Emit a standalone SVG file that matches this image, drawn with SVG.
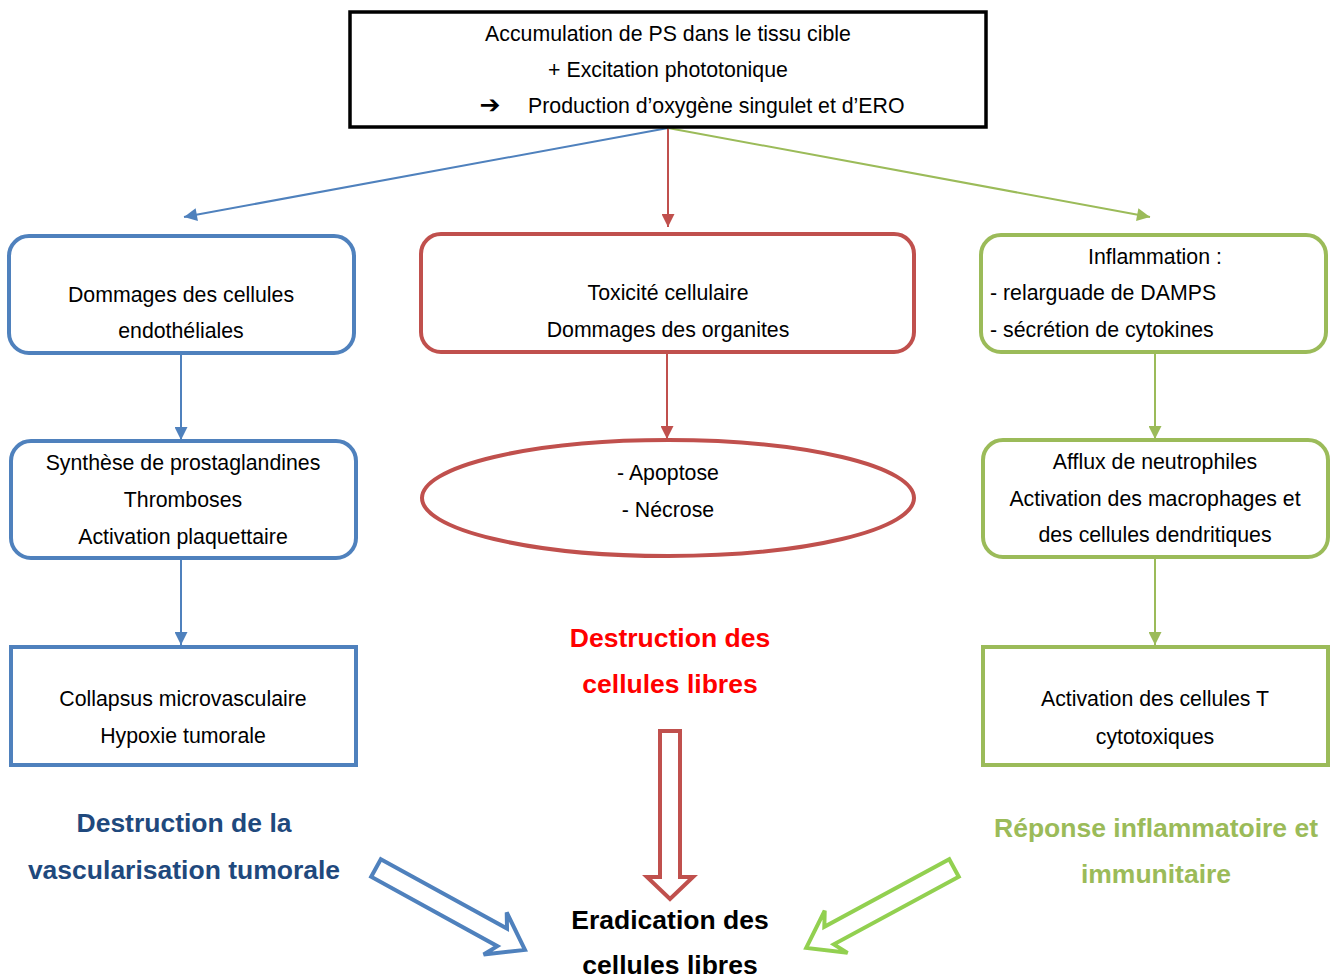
<svg xmlns="http://www.w3.org/2000/svg" width="1338" height="978" viewBox="0 0 1338 978">
<defs>
<style>
text{font-family:"Liberation Sans",Arial,sans-serif;font-size:21.3px;fill:#000;}
.c{text-anchor:middle;}
.t{font-weight:bold;font-size:26.5px;text-anchor:middle;}
.blue{fill:none;stroke:#4F81BD;stroke-width:4;}
.red{fill:none;stroke:#C0504D;stroke-width:4;}
.green{fill:none;stroke:#9BBB59;stroke-width:4;}
.lb{stroke:#4F81BD;stroke-width:2;fill:none;}
.lr{stroke:#C0504D;stroke-width:2;fill:none;}
.lg{stroke:#9BBB59;stroke-width:2;fill:none;}
</style>
<marker id="ab" viewBox="0 0 10 10" refX="10" refY="5" markerWidth="14" markerHeight="13" markerUnits="userSpaceOnUse" orient="auto"><path d="M0,0 L10,5 L0,10 z" fill="#4F81BD"/></marker>
<marker id="ar" viewBox="0 0 10 10" refX="10" refY="5" markerWidth="14" markerHeight="13" markerUnits="userSpaceOnUse" orient="auto"><path d="M0,0 L10,5 L0,10 z" fill="#C0504D"/></marker>
<marker id="ag" viewBox="0 0 10 10" refX="10" refY="5" markerWidth="14" markerHeight="13" markerUnits="userSpaceOnUse" orient="auto"><path d="M0,0 L10,5 L0,10 z" fill="#9BBB59"/></marker>
</defs>
<rect width="1338" height="978" fill="#fff"/>

<g id="connectors">
<path d="M668,128 L184,217" class="lb" marker-end="url(#ab)"/>
<path d="M668,128 L668,227" class="lr" marker-end="url(#ar)"/>
<path d="M668,128 L1150,217" class="lg" marker-end="url(#ag)"/>
<path d="M181,353 L181,440" class="lb" marker-end="url(#ab)"/>
<path d="M181,558 L181,645" class="lb" marker-end="url(#ab)"/>
<path d="M667,352 L667,439" class="lr" marker-end="url(#ar)"/>
<path d="M1155,352 L1155,439" class="lg" marker-end="url(#ag)"/>
<path d="M1155,557 L1155,645" class="lg" marker-end="url(#ag)"/>
</g>

<g id="top">
<rect x="350" y="12" width="636" height="115" fill="#fff" stroke="#000" stroke-width="3.5"/>
<text x="668" y="41" class="c">Accumulation de PS dans le tissu cible</text>
<text x="668" y="77" class="c">+ Excitation phototonique</text>
<text x="490" y="113" class="c" style="font-family:'DejaVu Sans',sans-serif;font-size:25px;font-weight:bold;">➔</text>
<text x="528" y="113">Production d’oxygène singulet et d’ERO</text>
</g>

<g id="b1">
<rect x="9" y="236" width="345" height="117" rx="20" class="blue"/>
<text x="181" y="302" class="c">Dommages des cellules</text>
<text x="181" y="338" class="c">endothéliales</text>
</g>
<g id="b2">
<rect x="11" y="441" width="345" height="117" rx="20" class="blue"/>
<text x="183" y="470" class="c">Synthèse de prostaglandines</text>
<text x="183" y="507" class="c">Thromboses</text>
<text x="183" y="544" class="c">Activation plaquettaire</text>
</g>
<g id="b3">
<rect x="11" y="647" width="345" height="118" class="blue"/>
<text x="183" y="706" class="c">Collapsus microvasculaire</text>
<text x="183" y="743" class="c">Hypoxie tumorale</text>
</g>

<g id="r1">
<rect x="421" y="234" width="493" height="118" rx="20" class="red"/>
<text x="668" y="300" class="c">Toxicité cellulaire</text>
<text x="668" y="337" class="c">Dommages des organites</text>
</g>
<g id="r2">
<ellipse cx="668" cy="498" rx="246" ry="58" class="red"/>
<text x="668" y="480" class="c">- Apoptose</text>
<text x="668" y="517" class="c">- Nécrose</text>
</g>

<g id="g1">
<rect x="981" y="235" width="345" height="117" rx="20" class="green"/>
<text x="1155" y="264" class="c">Inflammation :</text>
<text x="990" y="300">- relarguade de DAMPS</text>
<text x="990" y="337">- sécrétion de cytokines</text>
</g>
<g id="g2">
<rect x="983" y="440" width="345" height="117" rx="20" class="green"/>
<text x="1155" y="469" class="c">Afflux de neutrophiles</text>
<text x="1155" y="506" class="c">Activation des macrophages et</text>
<text x="1155" y="542" class="c">des cellules dendritiques</text>
</g>
<g id="g3">
<rect x="983" y="647" width="345" height="118" class="green"/>
<text x="1155" y="706" class="c">Activation des cellules T</text>
<text x="1155" y="744" class="c">cytotoxiques</text>
</g>

<g id="titles">
<text x="184" y="832" class="t" style="fill:#1F497D">Destruction de la</text>
<text x="184" y="879" class="t" style="fill:#1F497D">vascularisation tumorale</text>
<text x="670" y="647" class="t" style="fill:#FF0000">Destruction des</text>
<text x="670" y="693" class="t" style="fill:#FF0000">cellules libres</text>
<text x="1156" y="837" class="t" style="fill:#9BBB59">Réponse inflammatoire et</text>
<text x="1156" y="883" class="t" style="fill:#9BBB59">immunitaire</text>
<text x="670" y="929" class="t">Eradication des</text>
<text x="670" y="974" class="t">cellules libres</text>
</g>

<g id="hollow-arrows">
<polygon transform="translate(670,731) rotate(90)" points="0,-10 146,-10 146,-23 168,0 146,23 146,10 0,10" fill="#fff" stroke="#C0504D" stroke-width="4" stroke-linejoin="miter"/>
<polygon transform="translate(376,868) rotate(28.8)" points="0,-10 144,-10 136,-24 170,0 136,24 144,10 0,10" fill="#fff" stroke="#4F81BD" stroke-width="4"/>
<polygon transform="translate(954,868) rotate(151.6)" points="0,-10 142,-10 134,-24 168,0 134,24 142,10 0,10" fill="#fff" stroke="#92D050" stroke-width="4"/>
</g>
</svg>
